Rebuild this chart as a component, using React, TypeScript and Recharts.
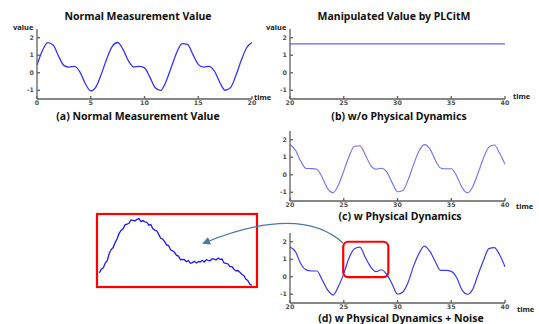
import React from "react"
import { LineChart, Line, XAxis, YAxis, ReferenceArea } from "recharts"

// sample times (0.5 s steps)
const timeA = [
  0, 0.5, 1, 1.5, 2, 2.5, 3, 3.5, 4, 4.5, 5, 5.5, 6, 6.5, 7, 7.5, 8, 8.5, 9, 9.5, 10,
  10.5, 11, 11.5, 12, 12.5, 13, 13.5, 14, 14.5, 15, 15.5, 16, 16.5, 17, 17.5, 18, 18.5, 19, 19.5, 20,
]
const timeB = [
  20, 20.5, 21, 21.5, 22, 22.5, 23, 23.5, 24, 24.5, 25, 25.5, 26, 26.5, 27, 27.5, 28, 28.5, 29, 29.5, 30,
  30.5, 31, 31.5, 32, 32.5, 33, 33.5, 34, 34.5, 35, 35.5, 36, 36.5, 37, 37.5, 38, 38.5, 39, 39.5, 40,
]

// (a) normal measurement
const normalValues = [
  0.45, 1.26, 1.72, 1.58, 0.96, 0.42, 0.32, 0.37, 0.04, -0.63, -1.04, -0.79, -0.05, 0.82, 1.51, 1.73, 1.34, 0.69, 0.33, 0.36, 0.28,
  -0.25, -0.86, -1.01, -0.5, 0.33, 1.16, 1.67, 1.62, 1.05, 0.48, 0.32, 0.37, 0.1, -0.54, -1.0, -0.85, -0.16, 0.71, 1.43, 1.73,
]
// (b) manipulated, constant
const flatTimes = [20, 40]
const flatValues = [1.65, 1.65]
// (c) with physical dynamics
const dynamicValues = [
  1.73, 1.41, 0.77, 0.36, 0.35, 0.31, -0.16, -0.79, -1.02, -0.59, 0.21, 1.06, 1.63, 1.66, 1.14, 0.54, 0.32, 0.37, 0.16, -0.45, -0.97,
  -0.9, -0.27, 0.59, 1.36, 1.72, 1.49, 0.86, 0.39, 0.34, 0.34, -0.07, -0.72, -1.03, -0.68, 0.1, 0.96, 1.58, 1.7, 1.23, 0.6,
]
// (d) with physical dynamics + noise
const noisyValues = [
  1.7, 1.44, 0.74, 0.39, 0.33, 0.33, -0.19, -0.76, -1.05, -0.56, 0.18, 1.09, 1.6, 1.69, 1.11, 0.57, 0.29, 0.4, 0.13, -0.42, -1.0,
  -0.87, -0.3, 0.62, 1.33, 1.75, 1.46, 0.89, 0.36, 0.37, 0.31, -0.04, -0.75, -1.0, -0.71, 0.13, 0.93, 1.61, 1.67, 1.26, 0.57,
]

// zoomed-in inset, read in inset pixel units
const insetX = [
  12, 18, 24, 30, 36, 42, 48, 54, 60, 66, 72, 78, 84, 90, 96, 102, 108, 114, 120, 126, 132, 138, 144, 150, 156, 162, 168, 174,
  180, 186, 192, 198, 204, 210, 216, 222, 228, 234, 240, 246, 252, 258, 264, 270, 276, 282, 288, 294, 300, 306, 312, 318, 324,
  330, 336, 342, 348, 354, 360, 366, 372, 378, 384, 390, 396, 402, 408, 414, 420, 426, 432, 438, 444, 450, 456, 462, 468, 474,
]
const insetY = [
  40, 51, 55, 70, 77, 99, 111, 117, 132, 144, 160, 169, 174, 186, 188, 191, 201, 200, 198, 203, 205, 196, 199, 195, 194, 185, 187, 175,
  170, 168, 157, 145, 143, 135, 125, 123, 110, 107, 103, 93, 91, 80, 81, 80, 74, 77, 69, 71, 75, 70, 74, 73, 78,
  73, 80, 78, 77, 83, 82, 79, 85, 81, 82, 70, 69, 67, 59, 59, 51, 46, 47, 42, 35, 32, 21, 17, 6, 2,
]

const valueTicks = [-1, 0, 1, 2]
const ticksA = [0, 5, 10, 15, 20]
const ticksB = [20, 25, 30, 35, 40]

const toRows = (ts: number[], vs: number[]) => ts.map((t, i) => ({ t, v: vs[i] }))

const frame = { stroke: "#5f5f5f", strokeWidth: 1.3 }
const tickFont = { fontSize: 6.3, fontWeight: 700, fill: "#505050", fontFamily: "DejaVu Sans" }

function Panel({ left, top, width, marginLeft, marginRight, rows, domainX, ticksX, color, lineWidth, children }: any) {
  return (
    <div style={{ position: "absolute", left, top }}>
      <LineChart width={width} height={95} data={rows} margin={{ top: 9, right: marginRight, bottom: 4, left: marginLeft }}>
        <XAxis dataKey="t" type="number" domain={domainX} ticks={ticksX} interval={0} height={12}
          tickSize={-3} tickMargin={5} axisLine={frame} tickLine={frame} tick={tickFont} />
        <XAxis xAxisId="top" orientation="top" type="number" domain={domainX} ticks={ticksX} interval={0} height={0}
          tickSize={-3} tick={false} axisLine={frame} tickLine={frame} />
        <YAxis type="number" domain={[-1.5, 2.5]} ticks={valueTicks} interval={0} width={30}
          tickSize={-3} tickMargin={6} axisLine={frame} tickLine={frame} tick={tickFont} />
        <YAxis yAxisId="right" orientation="right" type="number" domain={[-1.5, 2.5]} ticks={valueTicks} interval={0} width={0}
          tickSize={-3} tick={false} axisLine={frame} tickLine={frame} />
        <Line dataKey="v" type="monotone" stroke={color} strokeWidth={lineWidth} dot={false} isAnimationActive={false} />
        {children}
      </LineChart>
    </div>
  )
}

const titleStyle = { fontFamily: "Noto Sans", fontWeight: 700, fontSize: 10.5, fill: "#111" }
const smallStyle = { fontFamily: "Noto Sans", fontWeight: 700, fontSize: 7.5, fill: "#222" }

export default function App() {
  return (
    <div style={{ position: "absolute", left: 0, top: 0, width: 539, height: 324, background: "#fff", overflow: "hidden" }}>
      <Panel left={0} top={20} width={275} marginLeft={7} marginRight={23} rows={toRows(timeA, normalValues)}
        domainX={[0, 20]} ticksX={ticksA} color="#3434f4" lineWidth={1.3} />
      <Panel left={260} top={20} width={270} marginLeft={0} marginRight={25} rows={toRows(flatTimes, flatValues)}
        domainX={[20, 40]} ticksX={ticksB} color="#6464f4" lineWidth={1.2} />
      <Panel left={260} top={122} width={270} marginLeft={0} marginRight={25} rows={toRows(timeB, dynamicValues)}
        domainX={[20, 40]} ticksX={ticksB} color="#7070f6" lineWidth={1.1} />
      <Panel left={260} top={224} width={270} marginLeft={0} marginRight={25} rows={toRows(timeB, noisyValues)}
        domainX={[20, 40]} ticksX={ticksB} color="#3a3af0" lineWidth={1.2}>
        <ReferenceArea x1={24.95} x2={29.15} y1={-0.02} y2={2.0} ifOverflow="visible"
          shape={(p: any) => (
            <rect x={p.x} y={p.y} width={p.width} height={p.height} rx={5} fill="none" stroke="#f00" strokeWidth={2.2} />
          )} />
      </Panel>

      <div style={{ position: "absolute", left: 98, top: 215 }}>
        <LineChart width={159} height={71} data={toRows(insetX, insetY)} margin={{ top: 0, right: 0, bottom: 0, left: 0 }}>
          <XAxis dataKey="t" type="number" domain={[8, 490]} hide />
          <YAxis type="number" domain={[0, 216]} hide />
          <Line dataKey="v" type="linear" stroke="#1c1cf0" strokeWidth={1.3} dot={false} isAnimationActive={false} />
        </LineChart>
      </div>

      <svg width={539} height={324} style={{ position: "absolute", left: 0, top: 0, pointerEvents: "none" }}>
        <defs>
          <marker id="head" markerWidth="8" markerHeight="8" refX="6" refY="4" orient="auto" markerUnits="userSpaceOnUse">
            <path d="M0,0 L8,4 L0,8 z" fill="#4a78a8" />
          </marker>
        </defs>
        <rect x={97} y={214} width={160} height={73} fill="none" stroke="#f00" strokeWidth={2.2} />
        <path d="M343,243 C320,222 280,212 204,243" fill="none" stroke="#4a78a8" strokeWidth={1.3} markerEnd="url(#head)" />

        <text x={138} y={20} textAnchor="middle" style={titleStyle}>Normal Measurement Value</text>
        <text x={394} y={20} textAnchor="middle" style={titleStyle}>Manipulated Value by PLCitM</text>

        <text x={13} y={30} style={smallStyle}>value</text>
        <text x={266} y={30} style={smallStyle}>value</text>
        <text x={254} y={100} style={smallStyle}>time</text>
        <text x={513} y={99} style={smallStyle}>time</text>
        <text x={516} y={209} style={smallStyle}>time</text>
        <text x={517} y={312} style={smallStyle}>time</text>

        <text x={138} y={120} textAnchor="middle" style={titleStyle}>(a) Normal Measurement Value</text>
        <text x={399} y={120} textAnchor="middle" style={titleStyle}>(b) w/o Physical Dynamics</text>
        <text x={400} y={220} textAnchor="middle" style={titleStyle}>(c) w Physical Dynamics</text>
        <text x={401} y={322} textAnchor="middle" style={titleStyle}>(d) w Physical Dynamics + Noise</text>
      </svg>
    </div>
  )
}
